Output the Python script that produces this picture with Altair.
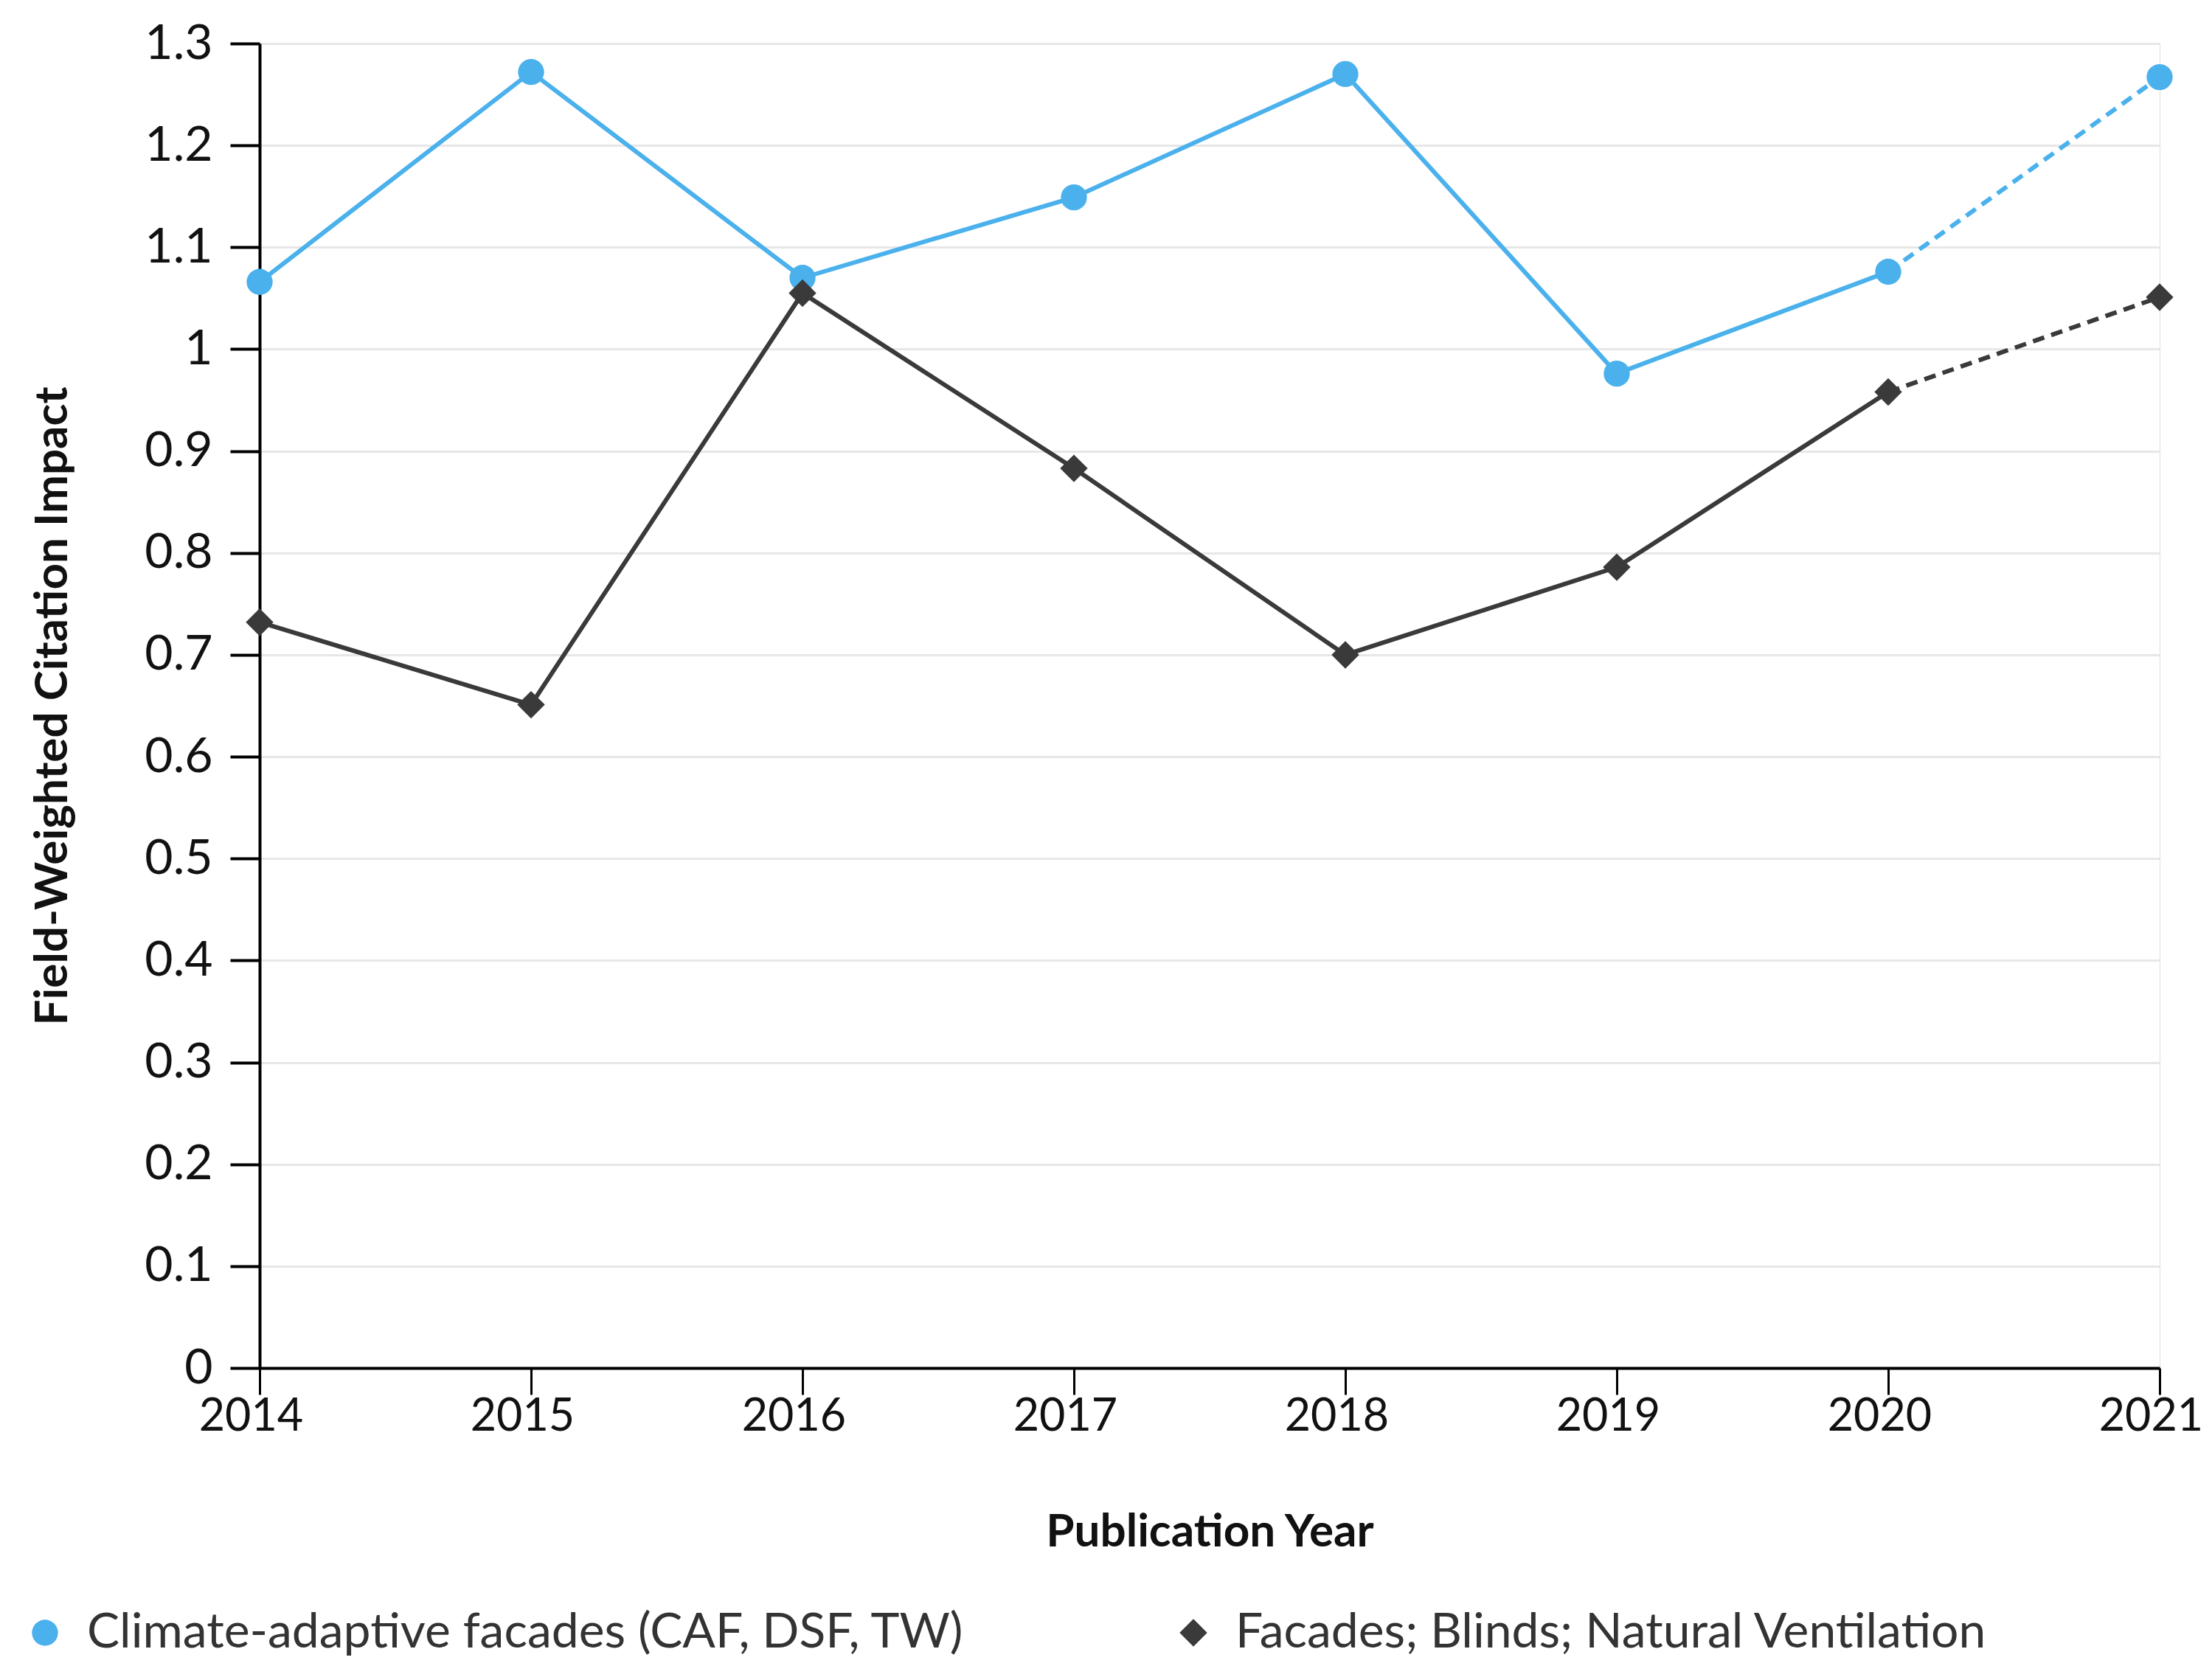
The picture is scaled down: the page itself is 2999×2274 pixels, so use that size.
import altair as alt
import pandas as pd

years = [2014, 2015, 2016, 2017, 2018, 2019, 2020, 2021]
caf = [1.066, 1.272, 1.070, 1.149, 1.270, 0.976, 1.076, 1.267]
fbn = [0.732, 0.651, 1.055, 0.883, 0.700, 0.786, 0.958, 1.051]
series_names = ["Climate-adaptive facades (CAF, DSF, TW)", "Facades; Blinds; Natural Ventilation"]
colors = ["#4BB1EC", "#3A3A3A"]
y_ticks = [round(i * 0.1, 1) for i in range(14)]

rows = []
for name, vals in zip(series_names, [caf, fbn]):
    for yr, v in zip(years, vals):
        rows.append({"year": yr, "value": v, "series": name})
df = pd.DataFrame(rows)

FONT = "Lato"

x = alt.X("year:Q", scale=alt.Scale(domain=[2014, 2021], nice=False, zero=False),
          axis=alt.Axis(values=years, format="d", title="Publication Year", grid=False,
                        labelFlush=False, labelOverlap=False, labelOffset=-12,
                        domainColor="#000", domainWidth=4, tickColor="#000", tickWidth=3,
                        tickSize=36, labelPadding=0, labelFontSize=61, labelColor="#111",
                        labelFont=FONT, titleFont=FONT, titleFontSize=62, titleFontWeight="bold",
                        titleColor="#111", titleY=222, titleBaseline="middle"))
y = alt.Y("value:Q", scale=alt.Scale(domain=[0, 1.3], nice=False),
          axis=alt.Axis(values=y_ticks, format="~g", title="Field-Weighted Citation Impact",
                        grid=True, gridColor="#e7e7e7", gridWidth=3, labelOverlap=False,
                        domainColor="#000", domainWidth=4, tickColor="#000", tickWidth=4,
                        tickSize=40, labelPadding=24, labelFontSize=66, labelColor="#111",
                        labelFont=FONT, titleFont=FONT, titleFontSize=62, titleFontWeight="bold",
                        titleColor="#111", titleX=-281, titleY=898, titleAngle=-90,
                        titleAlign="center", titleBaseline="middle"))

color_scale = alt.Scale(domain=series_names, range=colors)
legend = alt.Legend(orient="none", direction="horizontal", legendX=-324, legendY=2122,
                    labelFont=FONT, labelFontSize=66, labelColor="#333",
                    symbolSize=1100, symbolStrokeWidth=0, labelOffset=24,
                    columnPadding=277, labelLimit=2000, title=None)
color = alt.Color("series:N", scale=color_scale, legend=legend, title=None)
shape = alt.Shape("series:N", scale=alt.Scale(domain=series_names, range=["circle", "diamond"]),
                  legend=legend, title=None)

base = alt.Chart(df)

solid = base.transform_filter("datum.year <= 2020").mark_line(strokeWidth=6).encode(
    x=x, y=y, color=color, detail="series:N")
dashed = base.transform_filter("datum.year >= 2020").mark_line(strokeWidth=6, strokeDash=[16, 10]).encode(
    x=x, y=y, color=color, detail="series:N")
points = base.mark_point(filled=True, opacity=1).encode(
    x=x, y=y, color=color, shape=shape,
    size=alt.Size("series:N", scale=alt.Scale(domain=series_names, range=[1250, 1400]), legend=None),
)

chart = alt.layer(solid, dashed, points).properties(
    width=2576, height=1796,
    autosize=alt.AutoSizeParams(type="none"),
    padding={"left": 344, "top": 51, "right": 63, "bottom": 411},
).configure_view(stroke=None).configure(background="white")

chart.save("out.html", embed_options={"renderer": "svg", "actions": False})
